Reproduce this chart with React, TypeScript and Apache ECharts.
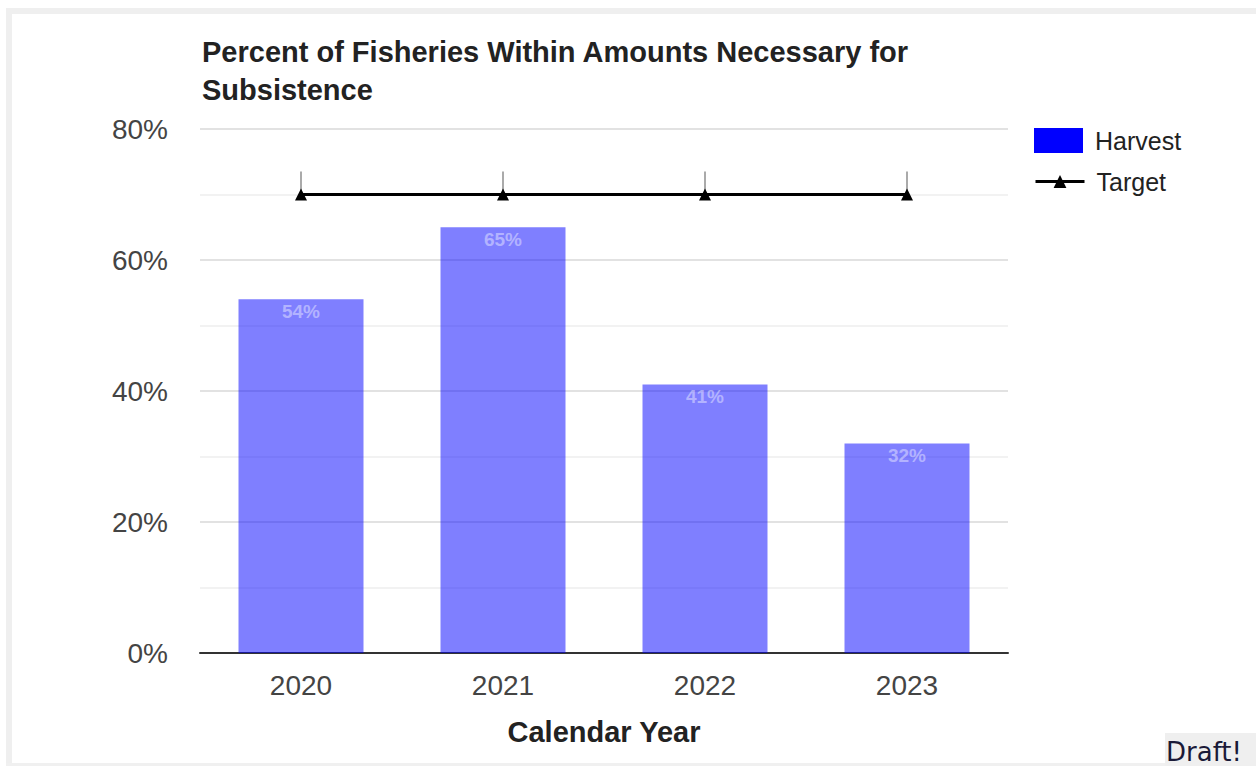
import React, { useEffect, useRef } from "react";
import * as echarts from "echarts";

const categories = ["2020", "2021", "2022", "2023"];
const harvest = [54, 65, 41, 32];
const target = [70, 70, 70, 70];
const targetUpper = [73.5, 73.5, 73.5, 73.5];
const titleText = "Percent of Fisheries Within Amounts Necessary for\nSubsistence";

const FONT = 'Arial, "Liberation Sans", sans-serif';

export default function App() {
  const ref = useRef<HTMLDivElement>(null);
  useEffect(() => {
    if (!ref.current) return;
    const chart = echarts.init(ref.current, undefined, { renderer: "svg" });
    const intervalData = categories.map((_, i) => [i, target[i], targetUpper[i]]);
    chart.setOption({
      animation: false,
      backgroundColor: "#ffffff",
      textStyle: { fontFamily: FONT },
      title: {
        text: titleText,
        left: 197,
        top: 28,
        textStyle: { fontSize: 29, fontWeight: "bold", color: "#222", lineHeight: 38, fontFamily: FONT },
      },
      legend: [
        {
          orient: "vertical",
          left: 1029,
          top: 123,
          itemWidth: 49,
          itemHeight: 25,
          textStyle: { fontSize: 25, color: "#222", padding: [0, 0, 0, 7], fontFamily: FONT },
          data: [{ name: "Harvest", icon: "rect", itemStyle: { color: "#0000ff", opacity: 1 } }],
        },
        {
          orient: "vertical",
          left: 1029,
          top: 164,
          itemWidth: 49,
          itemHeight: 16,
          textStyle: { fontSize: 25, color: "#222", padding: [0, 0, 0, 7], fontFamily: FONT },
          data: [{ name: "Target", lineStyle: { width: 3, color: "#000" }, itemStyle: { color: "#000" } }],
        },
      ],
      grid: { left: 200, right: 248, top: 129, bottom: 113, containLabel: false },
      xAxis: {
        type: "category",
        data: categories,
        axisTick: { show: false },
        axisLine: { lineStyle: { color: "#333", width: 2 } },
        axisLabel: { fontSize: 28, color: "#444", margin: 18, fontFamily: FONT },
        name: "Calendar Year",
        nameLocation: "middle",
        nameGap: 64,
        nameTextStyle: { fontSize: 29, fontWeight: "bold", color: "#222", fontFamily: FONT },
      },
      yAxis: {
        type: "value",
        min: 0,
        max: 80,
        interval: 20,
        axisLine: { show: false },
        axisTick: { show: false },
        axisLabel: { formatter: "{value}%", fontSize: 28, color: "#444", margin: 32, fontFamily: FONT },
        splitLine: { lineStyle: { color: "#d8d8d8", width: 1.5 } },
        minorTick: { show: false, splitNumber: 2 },
        minorSplitLine: { show: true, lineStyle: { color: "#eeeeee", width: 1.5 } },
      },
      series: [
        {
          name: "Harvest",
          type: "bar",
          data: harvest,
          barWidth: 125,
          itemStyle: { color: "#0000ff", opacity: 0.5 },
          label: {
            show: true,
            position: "insideTop",
            distance: 3,
            formatter: "{c}%",
            fontSize: 19,
            fontWeight: "bold",
            color: "rgba(255,255,255,0.82)",
            fontFamily: FONT,
          },
          z: 2,
        },
        {
          name: "TargetInterval",
          type: "custom",
          data: intervalData,
          renderItem: (params: any, api: any) => {
            const p0 = api.coord([api.value(0), api.value(1)]);
            const p1 = api.coord([api.value(0), api.value(2)]);
            return {
              type: "line",
              shape: { x1: p0[0], y1: p0[1], x2: p1[0], y2: p1[1] },
              style: { stroke: "#aaa", lineWidth: 2 },
            };
          },
          z: 3,
          silent: true,
        },
        {
          name: "Target",
          type: "line",
          data: target,
          symbol: "triangle",
          symbolSize: 12,
          itemStyle: { color: "#000" },
          lineStyle: { color: "#000", width: 3 },
          z: 4,
        },
      ],
      graphic: [
        { type: "rect", shape: { x: 6, y: 8, width: 1250, height: 6 }, style: { fill: "#efefef" }, silent: true },
        { type: "rect", shape: { x: 6, y: 8, width: 6, height: 758 }, style: { fill: "#efefef" }, silent: true },
        { type: "rect", shape: { x: 6, y: 763, width: 1250, height: 3 }, style: { fill: "#f0f0f0" }, silent: true },
        { type: "rect", shape: { x: 1165, y: 733, width: 91, height: 33 }, style: { fill: "#efefef" }, silent: true },
        {
          type: "text",
          x: 1166,
          y: 752,
          style: {
            text: "Draft!",
            fontSize: 26,
            fontFamily: '"DejaVu Sans", Verdana, sans-serif',
            fill: "#1a1a38",
            verticalAlign: "middle",
            align: "left",
          },
          silent: true,
        },
      ],
    });
    return () => chart.dispose();
  }, []);
  return (
    <div
      ref={ref}
      style={{ position: "fixed", left: 0, top: 0, width: 1256, height: 766 }}
    />
  );
}
